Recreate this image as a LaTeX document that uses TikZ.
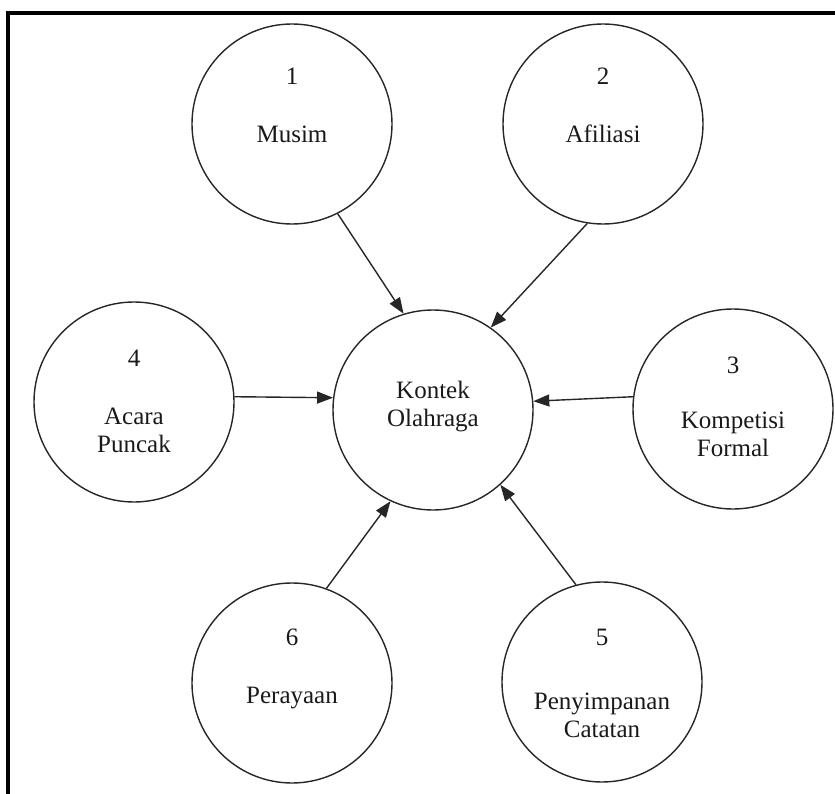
\documentclass[tikz,border=0pt]{standalone}
\usepackage{fontspec}
\setmainfont{Liberation Serif}
\usetikzlibrary{arrows.meta}
\begin{document}
\begin{tikzpicture}[x=1pt,y=-1pt,
  circ/.style={draw=black!85, line width=1.4pt, circle, minimum size=200pt, inner sep=0pt},
  lbl/.style={font=\fontsize{25}{28}\selectfont, align=center, inner sep=0pt, anchor=base, text=black!90},
  conn/.style={line width=1.4pt, draw=black!85, -{Triangle[length=16pt,width=12pt]}},
  frameline/.style={line width=4.5pt, line cap=butt}]
\useasboundingbox (0,0) rectangle (835,794);
\draw[frameline] (8,794) -- (8,13) -- (835,13);
% circles
\node[circ] (c1) at (292,124) {};
\node[circ] (c2) at (603,124) {};
\node[circ] (k)  at (433,410) {};
\node[circ] (c4) at (134,402) {};
\node[circ] (c3) at (733,409) {};
\node[circ] (c6) at (292,683) {};
\node[circ] (c5) at (602,682) {};
% texts (base anchor = baseline of the last line)
\node[lbl] (n1) at (292,85) {1};
\node[lbl] (t1) at (292,143) {Musim};
\node[lbl] (n2) at (603,85) {2};
\node[lbl] (t2) at (603,143) {Afiliasi};
\node[lbl] (tk) at (433,426) {Kontek\\Olahraga};
\node[lbl] (n4) at (134,366) {4};
\node[lbl] (t4) at (134,452) {Acara\\Puncak};
\node[lbl] (n3) at (733,373) {3};
\node[lbl] (t3) at (733,456) {Kompetisi\\Formal};
\node[lbl] (n6) at (292,645) {6};
\node[lbl] (t6) at (292,703) {Perayaan};
\node[lbl] (n5) at (602,645) {5};
\node[lbl] (t5) at (602,737) {Penyimpanan\\Catatan};
% connectors
\draw[conn] (c1.-63) -- (k.107);
\draw[conn] (c2.-99) -- (k.55);
\draw[conn] (c4.3) -- (k.173);
\draw[conn] (c3.173) -- (k.5);
\draw[conn] (c6.70) -- (k.-115);
\draw[conn] (c5.105) -- (k.-48);
\end{tikzpicture}
\end{document}
